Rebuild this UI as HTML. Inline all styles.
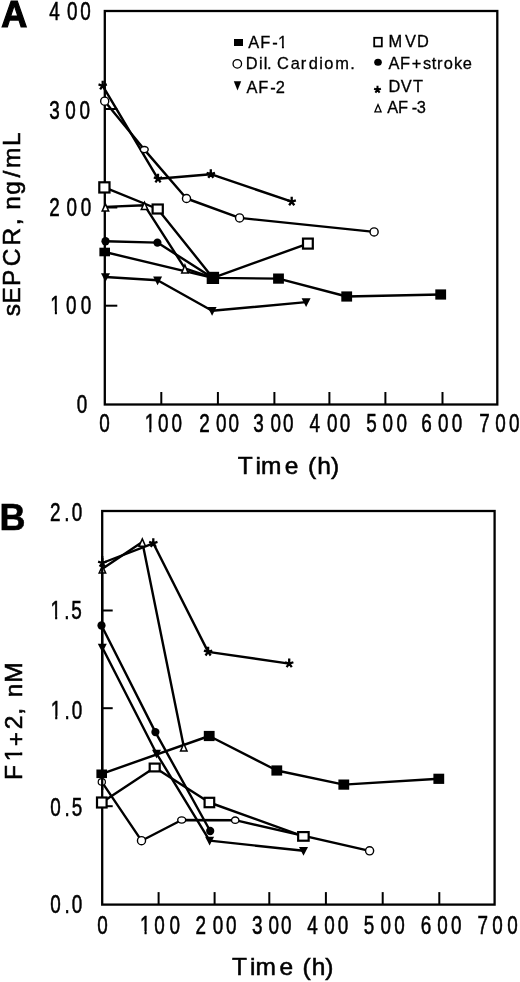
<!DOCTYPE html>
<html><head><meta charset="utf-8"><style>
html,body{margin:0;padding:0;background:#fff;}
svg{display:block;}
text{font-family:"Liberation Sans", Arial, Helvetica, sans-serif;fill:#000;stroke:#000;stroke-width:0.55px;}
</style></head><body>
<svg width="520" height="982" viewBox="0 0 520 982">
<defs><clipPath id="c1_25_0" clipPathUnits="userSpaceOnUse"><rect x="-25.00" y="-50.00" width="75.00" height="47.13"/><rect x="6.04" y="-3.37" width="2.71" height="15.37"/></clipPath><clipPath id="c1_24_5" clipPathUnits="userSpaceOnUse"><rect x="-24.50" y="-49.00" width="73.50" height="46.17"/><rect x="5.91" y="-3.33" width="2.67" height="15.08"/></clipPath><clipPath id="c1_16_4" clipPathUnits="userSpaceOnUse"><rect x="-16.40" y="-32.80" width="49.20" height="30.57"/><rect x="3.87" y="-2.73" width="1.95" height="10.43"/></clipPath></defs>
<rect width="520" height="982" fill="#fff"/>
<rect x="104.8" y="11.0" width="392.5" height="393.5" fill="none" stroke="#000" stroke-width="2.3"/>
<line x1="161.30" y1="404.5" x2="161.30" y2="392.0" stroke="#000" stroke-width="2.0"/>
<line x1="217.90" y1="404.5" x2="217.90" y2="392.0" stroke="#000" stroke-width="2.0"/>
<line x1="274.40" y1="404.5" x2="274.40" y2="392.0" stroke="#000" stroke-width="2.0"/>
<line x1="329.40" y1="404.5" x2="329.40" y2="392.0" stroke="#000" stroke-width="2.0"/>
<line x1="385.40" y1="404.5" x2="385.40" y2="392.0" stroke="#000" stroke-width="2.0"/>
<line x1="442.50" y1="404.5" x2="442.50" y2="392.0" stroke="#000" stroke-width="2.0"/>
<line x1="104.8" y1="305.70" x2="117.3" y2="305.70" stroke="#000" stroke-width="2.0"/>
<line x1="104.8" y1="207.50" x2="117.3" y2="207.50" stroke="#000" stroke-width="2.0"/>
<line x1="104.8" y1="109.00" x2="117.3" y2="109.00" stroke="#000" stroke-width="2.0"/>
<rect x="102.2" y="511.0" width="392.40000000000003" height="393.6" fill="none" stroke="#000" stroke-width="2.3"/>
<line x1="158.60" y1="904.6" x2="158.60" y2="892.1" stroke="#000" stroke-width="2.0"/>
<line x1="214.60" y1="904.6" x2="214.60" y2="892.1" stroke="#000" stroke-width="2.0"/>
<line x1="269.30" y1="904.6" x2="269.30" y2="892.1" stroke="#000" stroke-width="2.0"/>
<line x1="325.90" y1="904.6" x2="325.90" y2="892.1" stroke="#000" stroke-width="2.0"/>
<line x1="382.70" y1="904.6" x2="382.70" y2="892.1" stroke="#000" stroke-width="2.0"/>
<line x1="439.30" y1="904.6" x2="439.30" y2="892.1" stroke="#000" stroke-width="2.0"/>
<line x1="102.2" y1="806.20" x2="112.7" y2="806.20" stroke="#000" stroke-width="2.0"/>
<line x1="102.2" y1="708.20" x2="112.7" y2="708.20" stroke="#000" stroke-width="2.0"/>
<line x1="102.2" y1="610.50" x2="112.7" y2="610.50" stroke="#000" stroke-width="2.0"/>
<polyline points="105.40,206.90 144.50,205.30 184.90,268.40 212.90,277.90" fill="none" stroke="#000" stroke-width="2.4" stroke-linejoin="round"/>
<polyline points="102.70,85.80 158.00,178.80 210.80,174.20 291.70,201.70" fill="none" stroke="#000" stroke-width="2.4" stroke-linejoin="round"/>
<polyline points="105.50,241.30 157.40,242.60 212.90,277.90" fill="none" stroke="#000" stroke-width="2.4" stroke-linejoin="round"/>
<polyline points="104.40,187.40 157.70,209.00 212.90,277.90 307.90,243.60" fill="none" stroke="#000" stroke-width="2.4" stroke-linejoin="round"/>
<polyline points="105.50,277.00 157.60,280.30 212.10,310.80 306.10,302.10" fill="none" stroke="#000" stroke-width="2.4" stroke-linejoin="round"/>
<polyline points="104.70,101.20 144.30,149.60 186.50,198.50 239.60,217.90 374.10,231.90" fill="none" stroke="#000" stroke-width="2.4" stroke-linejoin="round"/>
<polyline points="104.70,252.00 212.90,277.90 278.50,278.60 346.70,296.50 440.70,294.50" fill="none" stroke="#000" stroke-width="2.4" stroke-linejoin="round"/>
<polygon points="105.40,202.00 109.80,211.80 101.00,211.80" fill="#000"/>
<polygon points="105.40,205.66 107.48,210.30 103.32,210.30" fill="#fff"/>
<polygon points="144.50,200.40 148.90,210.20 140.10,210.20" fill="#000"/>
<polygon points="144.50,204.06 146.58,208.70 142.42,208.70" fill="#fff"/>
<polygon points="184.90,263.10 189.20,273.70 180.60,273.70" fill="#000"/>
<polygon points="184.90,267.09 186.97,272.20 182.83,272.20" fill="#fff"/>
<polygon points="212.90,273.00 217.30,282.80 208.50,282.80" fill="#000"/>
<polygon points="212.90,276.66 214.98,281.30 210.82,281.30" fill="#fff"/>
<path d="M102.70,85.80L102.70,80.74M102.70,85.80L106.88,84.44M102.70,85.80L105.29,89.36M102.70,85.80L100.11,89.36M102.70,85.80L98.52,84.44" stroke="#000" stroke-width="2.3" fill="none" stroke-linecap="butt"/>
<path d="M158.00,178.80L158.00,173.74M158.00,178.80L162.18,177.44M158.00,178.80L160.59,182.36M158.00,178.80L155.41,182.36M158.00,178.80L153.82,177.44" stroke="#000" stroke-width="2.3" fill="none" stroke-linecap="butt"/>
<path d="M210.80,174.20L210.80,169.14M210.80,174.20L214.98,172.84M210.80,174.20L213.39,177.76M210.80,174.20L208.21,177.76M210.80,174.20L206.62,172.84" stroke="#000" stroke-width="2.3" fill="none" stroke-linecap="butt"/>
<path d="M291.70,201.70L291.70,196.64M291.70,201.70L295.88,200.34M291.70,201.70L294.29,205.26M291.70,201.70L289.11,205.26M291.70,201.70L287.52,200.34" stroke="#000" stroke-width="2.3" fill="none" stroke-linecap="butt"/>
<ellipse cx="105.5" cy="241.3" rx="4.1" ry="4.2" fill="#000"/>
<ellipse cx="157.4" cy="242.6" rx="4.1" ry="4.2" fill="#000"/>
<ellipse cx="212.9" cy="277.9" rx="4.1" ry="4.2" fill="#000"/>
<rect x="98.20" y="181.20" width="12.4" height="12.4" fill="#000"/>
<rect x="100.40" y="183.40" width="8.00" height="8.00" fill="#fff"/>
<rect x="151.50" y="203.40" width="12.4" height="11.2" fill="#000"/>
<rect x="153.70" y="205.60" width="8.00" height="6.80" fill="#fff"/>
<rect x="206.70" y="271.80" width="12.4" height="12.2" fill="#000"/>
<rect x="208.90" y="274.00" width="8.00" height="7.80" fill="#fff"/>
<rect x="301.90" y="237.50" width="12.0" height="12.2" fill="#000"/>
<rect x="304.10" y="239.70" width="7.60" height="7.80" fill="#fff"/>
<polygon points="101.00,273.20 110.00,273.20 105.50,282.00" fill="#000"/>
<polygon points="153.10,276.50 162.10,276.50 157.60,285.30" fill="#000"/>
<polygon points="207.60,307.00 216.60,307.00 212.10,315.80" fill="#000"/>
<polygon points="301.60,298.30 310.60,298.30 306.10,307.10" fill="#000"/>
<ellipse cx="104.7" cy="101.2" rx="4.05" ry="4.05" fill="#fff" stroke="#000" stroke-width="1.4"/>
<ellipse cx="144.3" cy="149.6" rx="3.90" ry="3.10" fill="#fff" stroke="#000" stroke-width="1.4"/>
<ellipse cx="186.5" cy="198.5" rx="4.05" ry="4.05" fill="#fff" stroke="#000" stroke-width="1.4"/>
<ellipse cx="239.6" cy="217.9" rx="4.05" ry="4.05" fill="#fff" stroke="#000" stroke-width="1.4"/>
<ellipse cx="374.1" cy="231.9" rx="4.05" ry="4.05" fill="#fff" stroke="#000" stroke-width="1.4"/>
<rect x="99.40" y="247.70" width="10.6" height="8.6" fill="#000"/>
<rect x="207.50" y="272.80" width="10.8" height="10.2" fill="#000"/>
<rect x="273.10" y="273.50" width="10.8" height="10.2" fill="#000"/>
<rect x="341.30" y="291.40" width="10.8" height="10.2" fill="#000"/>
<rect x="435.30" y="289.40" width="10.8" height="10.2" fill="#000"/>
<polyline points="102.40,568.80 142.30,542.00 183.80,746.80" fill="none" stroke="#000" stroke-width="2.4" stroke-linejoin="round"/>
<polyline points="102.30,563.00 153.30,543.30 208.10,651.90 289.20,663.60" fill="none" stroke="#000" stroke-width="2.4" stroke-linejoin="round"/>
<polyline points="101.50,625.50 155.40,732.10 210.20,831.00" fill="none" stroke="#000" stroke-width="2.4" stroke-linejoin="round"/>
<polyline points="101.80,802.50 154.70,767.50 209.40,802.50 303.40,836.40" fill="none" stroke="#000" stroke-width="2.4" stroke-linejoin="round"/>
<polyline points="102.30,647.50 156.50,753.50 209.60,840.60 303.50,850.80" fill="none" stroke="#000" stroke-width="2.4" stroke-linejoin="round"/>
<polyline points="101.80,781.90 141.50,840.70 181.70,820.00 235.20,820.20 369.60,850.80" fill="none" stroke="#000" stroke-width="2.4" stroke-linejoin="round"/>
<polyline points="101.70,773.80 209.20,736.00 276.80,770.50 343.80,784.60 438.80,778.80" fill="none" stroke="#000" stroke-width="2.4" stroke-linejoin="round"/>
<polygon points="102.40,563.90 106.80,573.70 98.00,573.70" fill="#000"/>
<polygon points="102.40,567.56 104.48,572.20 100.32,572.20" fill="#fff"/>
<polygon points="142.30,537.10 146.70,546.90 137.90,546.90" fill="#000"/>
<polygon points="142.30,540.76 144.38,545.40 140.22,545.40" fill="#fff"/>
<polygon points="183.80,741.90 188.20,751.70 179.40,751.70" fill="#000"/>
<polygon points="183.80,745.56 185.88,750.20 181.72,750.20" fill="#fff"/>
<path d="M102.30,563.00L102.30,557.94M102.30,563.00L106.48,561.64M102.30,563.00L104.89,566.56M102.30,563.00L99.71,566.56M102.30,563.00L98.12,561.64" stroke="#000" stroke-width="2.3" fill="none" stroke-linecap="butt"/>
<path d="M153.30,543.30L153.30,538.24M153.30,543.30L157.48,541.94M153.30,543.30L155.89,546.86M153.30,543.30L150.71,546.86M153.30,543.30L149.12,541.94" stroke="#000" stroke-width="2.3" fill="none" stroke-linecap="butt"/>
<path d="M208.10,651.90L208.10,646.84M208.10,651.90L212.28,650.54M208.10,651.90L210.69,655.46M208.10,651.90L205.51,655.46M208.10,651.90L203.92,650.54" stroke="#000" stroke-width="2.3" fill="none" stroke-linecap="butt"/>
<path d="M289.20,663.60L289.20,658.54M289.20,663.60L293.38,662.24M289.20,663.60L291.79,667.16M289.20,663.60L286.61,667.16M289.20,663.60L285.02,662.24" stroke="#000" stroke-width="2.3" fill="none" stroke-linecap="butt"/>
<ellipse cx="101.5" cy="625.5" rx="4.1" ry="4.2" fill="#000"/>
<ellipse cx="155.4" cy="732.1" rx="4.1" ry="4.2" fill="#000"/>
<ellipse cx="210.2" cy="831.0" rx="4.1" ry="4.2" fill="#000"/>
<rect x="95.90" y="796.40" width="11.8" height="12.2" fill="#000"/>
<rect x="98.10" y="798.60" width="7.40" height="7.80" fill="#fff"/>
<rect x="148.60" y="762.50" width="12.2" height="10.0" fill="#000"/>
<rect x="150.80" y="764.70" width="7.80" height="5.60" fill="#fff"/>
<rect x="203.50" y="796.70" width="11.8" height="11.6" fill="#000"/>
<rect x="205.70" y="798.90" width="7.40" height="7.20" fill="#fff"/>
<rect x="297.05" y="831.00" width="12.7" height="10.8" fill="#000"/>
<rect x="299.25" y="833.20" width="8.30" height="6.40" fill="#fff"/>
<polygon points="97.80,643.70 106.80,643.70 102.30,652.50" fill="#000"/>
<polygon points="152.00,749.70 161.00,749.70 156.50,758.50" fill="#000"/>
<polygon points="205.10,836.80 214.10,836.80 209.60,845.60" fill="#000"/>
<polygon points="299.00,847.00 308.00,847.00 303.50,855.80" fill="#000"/>
<ellipse cx="101.8" cy="781.9" rx="3.60" ry="3.20" fill="#fff" stroke="#000" stroke-width="1.2"/>
<ellipse cx="141.5" cy="840.7" rx="4.05" ry="4.05" fill="#fff" stroke="#000" stroke-width="1.4"/>
<ellipse cx="181.7" cy="820.0" rx="4.00" ry="3.15" fill="#fff" stroke="#000" stroke-width="1.4"/>
<ellipse cx="235.2" cy="820.2" rx="3.70" ry="3.20" fill="#fff" stroke="#000" stroke-width="1.4"/>
<ellipse cx="369.6" cy="850.8" rx="4.05" ry="4.05" fill="#fff" stroke="#000" stroke-width="1.4"/>
<rect x="96.40" y="769.50" width="10.6" height="8.6" fill="#000"/>
<rect x="203.80" y="730.90" width="10.8" height="10.2" fill="#000"/>
<rect x="271.40" y="765.40" width="10.8" height="10.2" fill="#000"/>
<rect x="338.40" y="779.50" width="10.8" height="10.2" fill="#000"/>
<rect x="433.40" y="773.70" width="10.8" height="10.2" fill="#000"/>
<line x1="102.2" y1="556" x2="102.2" y2="790" stroke="#000" stroke-width="2.3"/>
<rect x="234.00" y="39.00" width="9.0" height="7.0" fill="#000"/>
<ellipse cx="237.3" cy="63.8" rx="4.25" ry="4.25" fill="#fff" stroke="#000" stroke-width="1.3"/>
<polygon points="233.80,81.20 241.20,81.20 237.50,90.60" fill="#000"/>
<rect x="373.30" y="36.90" width="9.4" height="10.4" fill="#000"/>
<rect x="375.10" y="38.70" width="5.80" height="6.80" fill="#fff"/>
<ellipse cx="378.0" cy="62.3" rx="3.8" ry="3.5" fill="#000"/>
<path d="M377.50,89.80L377.50,85.66M377.50,89.80L380.92,88.69M377.50,89.80L379.62,92.71M377.50,89.80L375.38,92.71M377.50,89.80L374.08,88.69" stroke="#000" stroke-width="2.0" fill="none" stroke-linecap="butt"/>
<polygon points="378.00,103.00 382.10,112.60 373.90,112.60" fill="#000"/>
<polygon points="378.00,106.31 380.13,111.30 375.87,111.30" fill="#fff"/>
<text transform="translate(49.16,19.60) scale(0.755,1)" font-size="25.0">4</text>
<text transform="translate(66.90,19.60) scale(0.755,1)" font-size="25.0">0</text>
<text transform="translate(80.35,19.60) scale(0.755,1)" font-size="25.0">0</text>
<text transform="translate(49.36,118.90) scale(0.755,1)" font-size="25.0">3</text>
<text transform="translate(65.35,118.90) scale(0.755,1)" font-size="25.0">0</text>
<text transform="translate(79.55,118.90) scale(0.755,1)" font-size="25.0">0</text>
<text transform="translate(49.35,216.30) scale(0.755,1)" font-size="25.0">2</text>
<text transform="translate(66.45,216.30) scale(0.755,1)" font-size="25.0">0</text>
<text transform="translate(80.80,216.30) scale(0.755,1)" font-size="25.0">0</text>
<text transform="translate(50.33,313.60) scale(0.755,1)" font-size="25.0" clip-path="url(#c1_25_0)">1</text>
<text transform="translate(65.90,313.60) scale(0.755,1)" font-size="25.0">0</text>
<text transform="translate(80.65,313.60) scale(0.755,1)" font-size="25.0">0</text>
<text transform="translate(76.65,413.00) scale(0.755,1)" font-size="25.0">0</text>
<text transform="translate(99.35,431.70) scale(0.755,1)" font-size="25.0">0</text>
<text transform="translate(144.73,431.70) scale(0.755,1)" font-size="25.0" clip-path="url(#c1_25_0)">1</text>
<text transform="translate(158.00,431.70) scale(0.755,1)" font-size="25.0">0</text>
<text transform="translate(171.50,431.70) scale(0.755,1)" font-size="25.0">0</text>
<text transform="translate(199.25,431.70) scale(0.755,1)" font-size="25.0">2</text>
<text transform="translate(216.00,431.70) scale(0.755,1)" font-size="25.0">0</text>
<text transform="translate(228.50,431.70) scale(0.755,1)" font-size="25.0">0</text>
<text transform="translate(253.18,431.70) scale(0.755,1)" font-size="25.0">3</text>
<text transform="translate(270.38,431.70) scale(0.755,1)" font-size="25.0">0</text>
<text transform="translate(282.88,431.70) scale(0.755,1)" font-size="25.0">0</text>
<text transform="translate(309.46,431.70) scale(0.755,1)" font-size="25.0">4</text>
<text transform="translate(327.05,431.70) scale(0.755,1)" font-size="25.0">0</text>
<text transform="translate(339.75,431.70) scale(0.755,1)" font-size="25.0">0</text>
<text transform="translate(366.32,431.70) scale(0.755,1)" font-size="25.0">5</text>
<text transform="translate(382.45,431.70) scale(0.755,1)" font-size="25.0">0</text>
<text transform="translate(396.50,431.70) scale(0.755,1)" font-size="25.0">0</text>
<text transform="translate(421.29,431.70) scale(0.755,1)" font-size="25.0">6</text>
<text transform="translate(438.10,431.70) scale(0.755,1)" font-size="25.0">0</text>
<text transform="translate(451.80,431.70) scale(0.755,1)" font-size="25.0">0</text>
<text transform="translate(479.29,431.70) scale(0.755,1)" font-size="25.0">7</text>
<text transform="translate(495.20,431.70) scale(0.755,1)" font-size="25.0">0</text>
<text transform="translate(508.95,431.70) scale(0.755,1)" font-size="25.0">0</text>
<text transform="translate(50.05,520.50) scale(0.755,1)" font-size="25.0">2</text>
<text transform="translate(64.33,520.50) scale(0.755,1)" font-size="25.0">.</text>
<text transform="translate(71.65,520.50) scale(0.755,1)" font-size="25.0">0</text>
<text transform="translate(50.58,618.70) scale(0.755,1)" font-size="25.0" clip-path="url(#c1_25_0)">1</text>
<text transform="translate(64.33,618.70) scale(0.755,1)" font-size="25.0">.</text>
<text transform="translate(71.37,618.70) scale(0.755,1)" font-size="25.0">5</text>
<text transform="translate(50.68,718.50) scale(0.755,1)" font-size="25.0" clip-path="url(#c1_25_0)">1</text>
<text transform="translate(64.48,718.50) scale(0.755,1)" font-size="25.0">.</text>
<text transform="translate(71.80,718.50) scale(0.755,1)" font-size="25.0">0</text>
<text transform="translate(50.30,816.00) scale(0.755,1)" font-size="25.0">0</text>
<text transform="translate(64.48,816.00) scale(0.755,1)" font-size="25.0">.</text>
<text transform="translate(71.77,816.00) scale(0.755,1)" font-size="25.0">5</text>
<text transform="translate(50.25,913.00) scale(0.755,1)" font-size="25.0">0</text>
<text transform="translate(64.48,913.00) scale(0.755,1)" font-size="25.0">.</text>
<text transform="translate(71.75,913.00) scale(0.755,1)" font-size="25.0">0</text>
<text transform="translate(97.25,933.80) scale(0.755,1)" font-size="25.0">0</text>
<text transform="translate(140.01,933.80) scale(0.755,1)" font-size="25.0" clip-path="url(#c1_25_0)">1</text>
<text transform="translate(154.13,933.80) scale(0.755,1)" font-size="25.0">0</text>
<text transform="translate(169.50,933.80) scale(0.755,1)" font-size="25.0">0</text>
<text transform="translate(195.50,933.80) scale(0.755,1)" font-size="25.0">2</text>
<text transform="translate(212.85,933.80) scale(0.755,1)" font-size="25.0">0</text>
<text transform="translate(225.90,933.80) scale(0.755,1)" font-size="25.0">0</text>
<text transform="translate(252.11,933.80) scale(0.755,1)" font-size="25.0">3</text>
<text transform="translate(268.60,933.80) scale(0.755,1)" font-size="25.0">0</text>
<text transform="translate(281.10,933.80) scale(0.755,1)" font-size="25.0">0</text>
<text transform="translate(307.16,933.80) scale(0.755,1)" font-size="25.0">4</text>
<text transform="translate(324.15,933.80) scale(0.755,1)" font-size="25.0">0</text>
<text transform="translate(337.70,933.80) scale(0.755,1)" font-size="25.0">0</text>
<text transform="translate(363.82,933.80) scale(0.755,1)" font-size="25.0">5</text>
<text transform="translate(380.40,933.80) scale(0.755,1)" font-size="25.0">0</text>
<text transform="translate(394.20,933.80) scale(0.755,1)" font-size="25.0">0</text>
<text transform="translate(420.79,933.80) scale(0.755,1)" font-size="25.0">6</text>
<text transform="translate(437.35,933.80) scale(0.755,1)" font-size="25.0">0</text>
<text transform="translate(451.10,933.80) scale(0.755,1)" font-size="25.0">0</text>
<text transform="translate(477.39,933.80) scale(0.755,1)" font-size="25.0">7</text>
<text transform="translate(492.35,933.80) scale(0.755,1)" font-size="25.0">0</text>
<text transform="translate(507.35,933.80) scale(0.755,1)" font-size="25.0">0</text>
<text x="1.2" y="27" font-size="36" font-weight="bold" style="stroke-width:1.2px">A</text>
<text x="-0.4" y="530.2" font-size="36" font-weight="bold" style="stroke-width:0.6px">B</text>
<text transform="translate(237.72,474.20) scale(1.0,1)" font-size="24.5">T</text>
<text transform="translate(255.43,474.20) scale(1.0,1)" font-size="24.5">i</text>
<text transform="translate(261.04,474.20) scale(1.0,1)" font-size="24.5">m</text>
<text transform="translate(284.76,474.20) scale(1.0,1)" font-size="24.5">e</text>
<text transform="translate(308.03,474.20) scale(1.0,1)" font-size="24.5">(</text>
<text transform="translate(317.23,474.20) scale(1.0,1)" font-size="24.5">h</text>
<text transform="translate(331.01,474.20) scale(1.0,1)" font-size="24.5">)</text>
<text transform="translate(231.90,974.50) scale(1.0,1)" font-size="24.5">T</text>
<text transform="translate(250.03,974.50) scale(1.0,1)" font-size="24.5">i</text>
<text transform="translate(255.44,974.50) scale(1.0,1)" font-size="24.5">m</text>
<text transform="translate(279.46,974.50) scale(1.0,1)" font-size="24.5">e</text>
<text transform="translate(302.43,974.50) scale(1.0,1)" font-size="24.5">(</text>
<text transform="translate(311.63,974.50) scale(1.0,1)" font-size="24.5">h</text>
<text transform="translate(325.31,974.50) scale(1.0,1)" font-size="24.5">)</text>
<text transform="translate(20.00,316.27) rotate(-90)" font-size="24.5">s</text>
<text transform="translate(20.00,303.40) rotate(-90)" font-size="24.5">E</text>
<text transform="translate(20.00,285.88) rotate(-90)" font-size="24.5">P</text>
<text transform="translate(20.00,266.30) rotate(-90)" font-size="24.5">C</text>
<text transform="translate(20.00,245.38) rotate(-90)" font-size="24.5">R</text>
<text transform="translate(20.00,225.35) rotate(-90)" font-size="24.5">,</text>
<text transform="translate(20.00,209.73) rotate(-90)" font-size="24.5">n</text>
<text transform="translate(20.00,194.69) rotate(-90)" font-size="24.5">g</text>
<text transform="translate(20.00,177.40) rotate(-90)" font-size="24.5">/</text>
<text transform="translate(20.00,168.11) rotate(-90)" font-size="24.5">m</text>
<text transform="translate(20.00,146.06) rotate(-90)" font-size="24.5">L</text>
<text transform="translate(22.20,779.90) rotate(-90)" font-size="24.5">F</text>
<text transform="translate(22.20,761.14) rotate(-90)" font-size="24.5" clip-path="url(#c1_24_5)">1</text>
<text transform="translate(24.20,746.25) rotate(-90)" font-size="24.5">+</text>
<text transform="translate(22.20,729.16) rotate(-90)" font-size="24.5">2</text>
<text transform="translate(22.20,714.80) rotate(-90)" font-size="24.5">,</text>
<text transform="translate(22.20,697.23) rotate(-90)" font-size="24.5">n</text>
<text transform="translate(22.20,682.75) rotate(-90)" font-size="24.5">M</text>
<text transform="translate(248.28,47.90) scale(1.0,1)" font-size="16.4" style="stroke-width:0.3px">A</text>
<text transform="translate(260.35,47.90) scale(1.0,1)" font-size="16.4" style="stroke-width:0.3px">F</text>
<text transform="translate(272.27,47.90) scale(1.0,1)" font-size="16.4" style="stroke-width:0.3px">-</text>
<text transform="translate(278.07,47.90) scale(1.0,1)" font-size="16.4" clip-path="url(#c1_16_4)" style="stroke-width:0.3px">1</text>
<text transform="translate(245.65,69.30) scale(1.0,1)" font-size="16.4" style="stroke-width:0.3px">D</text>
<text transform="translate(258.88,69.30) scale(1.0,1)" font-size="16.4" style="stroke-width:0.3px">i</text>
<text transform="translate(263.72,69.30) scale(1.0,1)" font-size="16.4" style="stroke-width:0.3px">l</text>
<text transform="translate(267.02,69.30) scale(1.0,1)" font-size="16.4" style="stroke-width:0.3px">.</text>
<text transform="translate(277.02,69.30) scale(1.0,1)" font-size="16.4" style="stroke-width:0.3px">C</text>
<text transform="translate(290.69,69.30) scale(1.0,1)" font-size="16.4" style="stroke-width:0.3px">a</text>
<text transform="translate(300.76,69.30) scale(1.0,1)" font-size="16.4" style="stroke-width:0.3px">r</text>
<text transform="translate(308.77,69.30) scale(1.0,1)" font-size="16.4" style="stroke-width:0.3px">d</text>
<text transform="translate(319.13,69.30) scale(1.0,1)" font-size="16.4" style="stroke-width:0.3px">i</text>
<text transform="translate(324.19,69.30) scale(1.0,1)" font-size="16.4" style="stroke-width:0.3px">o</text>
<text transform="translate(335.22,69.30) scale(1.0,1)" font-size="16.4" style="stroke-width:0.3px">m</text>
<text transform="translate(350.37,69.30) scale(1.0,1)" font-size="16.4" style="stroke-width:0.3px">.</text>
<text transform="translate(246.48,92.60) scale(1.0,1)" font-size="16.4" style="stroke-width:0.3px">A</text>
<text transform="translate(258.35,92.60) scale(1.0,1)" font-size="16.4" style="stroke-width:0.3px">F</text>
<text transform="translate(270.27,92.60) scale(1.0,1)" font-size="16.4" style="stroke-width:0.3px">-</text>
<text transform="translate(275.74,92.60) scale(1.0,1)" font-size="16.4" style="stroke-width:0.3px">2</text>
<text transform="translate(388.52,47.40) scale(1.0,1)" font-size="16.4" style="stroke-width:0.3px">M</text>
<text transform="translate(405.01,47.40) scale(1.0,1)" font-size="16.4" style="stroke-width:0.3px">V</text>
<text transform="translate(417.05,47.40) scale(1.0,1)" font-size="16.4" style="stroke-width:0.3px">D</text>
<text transform="translate(388.43,68.60) scale(1.0,1)" font-size="16.4" style="stroke-width:0.3px">A</text>
<text transform="translate(399.95,68.60) scale(1.0,1)" font-size="16.4" style="stroke-width:0.3px">F</text>
<text transform="translate(411.82,68.60) scale(1.0,1)" font-size="16.4" style="stroke-width:0.3px">+</text>
<text transform="translate(423.12,68.60) scale(1.0,1)" font-size="16.4" style="stroke-width:0.3px">s</text>
<text transform="translate(431.66,68.60) scale(1.0,1)" font-size="16.4" style="stroke-width:0.3px">t</text>
<text transform="translate(436.96,68.60) scale(1.0,1)" font-size="16.4" style="stroke-width:0.3px">r</text>
<text transform="translate(443.74,68.60) scale(1.0,1)" font-size="16.4" style="stroke-width:0.3px">o</text>
<text transform="translate(453.94,68.60) scale(1.0,1)" font-size="16.4" style="stroke-width:0.3px">k</text>
<text transform="translate(462.76,68.60) scale(1.0,1)" font-size="16.4" style="stroke-width:0.3px">e</text>
<text transform="translate(388.60,91.70) scale(1.0,1)" font-size="16.4" style="stroke-width:0.3px">D</text>
<text transform="translate(400.68,91.70) scale(1.0,1)" font-size="16.4" style="stroke-width:0.3px">V</text>
<text transform="translate(413.05,91.70) scale(1.0,1)" font-size="16.4" style="stroke-width:0.3px">T</text>
<text transform="translate(387.33,113.00) scale(1.0,1)" font-size="16.4" style="stroke-width:0.3px">A</text>
<text transform="translate(398.10,113.00) scale(1.0,1)" font-size="16.4" style="stroke-width:0.3px">F</text>
<text transform="translate(411.72,113.00) scale(1.0,1)" font-size="16.4" style="stroke-width:0.3px">-</text>
<text transform="translate(416.84,113.00) scale(1.0,1)" font-size="16.4" style="stroke-width:0.3px">3</text>
</svg>
</body></html>
